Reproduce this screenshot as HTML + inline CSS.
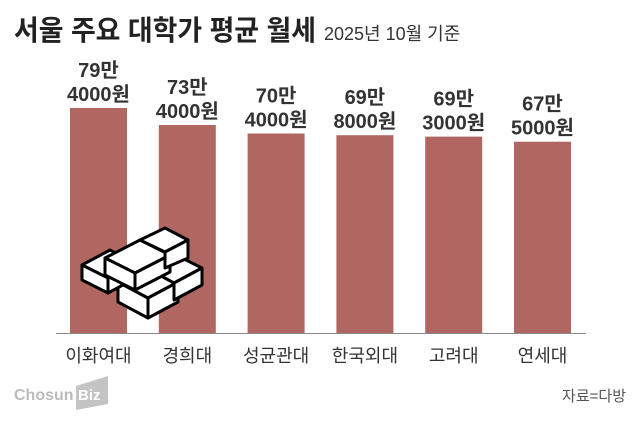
<!DOCTYPE html>
<html><head><meta charset="utf-8"><style>
body{margin:0;background:#fff;width:640px;height:429px;overflow:hidden;font-family:"Liberation Sans","Noto Sans CJK KR",sans-serif;}
svg text{font-family:"Liberation Sans","Noto Sans CJK KR",sans-serif;}
</style></head><body>
<svg width="640" height="429">
<text x="14" y="40" font-size="28" font-weight="bold" fill="#222" textLength="302" lengthAdjust="spacingAndGlyphs">서울 주요 대학가 평균 월세</text>
<text x="324" y="40" font-size="18" fill="#333">2025년 10월 기준</text>
<g id="bars"></g>
<line x1="56" y1="333.5" x2="586" y2="333.5" stroke="#888" stroke-width="1"/>
<g stroke="#000" stroke-width="3" stroke-linejoin="round" fill="#fff">
<polygon points="118,282 148,298 148,318 118,302"/>
<polygon points="118,282 148,266 178,282 148,298"/>
<polygon points="148,298 178,282 178,302 148,318"/>
<polygon points="150,270 178,256 202,268 174,283"/>
<polygon points="174,283 202,268 202,285 174,300"/>
<polygon points="82,265 110,250 136,263 108,278"/>
<polygon points="82,265 108,278 108,293 82,280"/>
<polygon points="108,278 136,263 136,278 108,293"/>
<polygon points="105,258 140,240 170,255 135,273"/>
<polygon points="105,258 135,273 135,290 105,275"/>
<polygon points="135,273 170,255 170,272 135,290"/>
<polygon points="140,240 165,228 188,240 165,252"/>
<polygon points="165,252 188,240 188,258 165,268"/>
</g>
<text x="14" y="400" font-size="16" fill="#bbb" font-weight="bold">Chosun</text>
<polygon points="76,386 108,376 108,404 76,410" fill="#c4c4c4"/>
<text x="78" y="400" font-size="15" fill="#fff" font-weight="bold">Biz</text>
<text x="626" y="401" font-size="15" fill="#555" text-anchor="end">자료=다방</text>
</svg>
<script>
const categories=["이화여대","경희대","성균관대","한국외대","고려대","연세대"];
const values=[794000,734000,704000,698000,693000,675000];
const manLabels=["79만","73만","70만","69만","69만","67만"];
const wonLabels=["4000원","4000원","4000원","8000원","3000원","5000원"];
const base=333, pxPer=225/794000;
const y=v=>base-v*pxPer;
const x=i=>70+i*88.8;
const bw=57;
const g=document.getElementById('bars');
const NS="http://www.w3.org/2000/svg";
values.forEach((v,i)=>{
 const r=document.createElementNS(NS,'rect');
 r.setAttribute('x',x(i));r.setAttribute('y',y(v));r.setAttribute('width',bw);r.setAttribute('height',base-y(v));
 r.setAttribute('fill','#b06762');
 
 
 g.appendChild(r);
 const cx=x(i)+bw/2;
 const t1=document.createElementNS(NS,'text');
 t1.setAttribute('x',cx);t1.setAttribute('y',y(v)-31);t1.setAttribute('text-anchor','middle');t1.setAttribute('font-size','20');t1.setAttribute('font-weight','bold');t1.setAttribute('fill','#333');
 t1.textContent=manLabels[i];
 
 
 g.appendChild(t1);
 const t2=document.createElementNS(NS,'text');
 t2.setAttribute('x',cx);t2.setAttribute('y',y(v)-7);t2.setAttribute('text-anchor','middle');t2.setAttribute('font-size','20');t2.setAttribute('font-weight','bold');t2.setAttribute('fill','#333');
 t2.textContent=wonLabels[i];
 
 
 g.appendChild(t2);
 const c=document.createElementNS(NS,'text');
 c.setAttribute('x',cx);c.setAttribute('y',362);c.setAttribute('text-anchor','middle');c.setAttribute('font-size','18');c.setAttribute('fill','#333');
 c.textContent=categories[i];
 
 
 g.appendChild(c);
});
</script>
</body></html>
